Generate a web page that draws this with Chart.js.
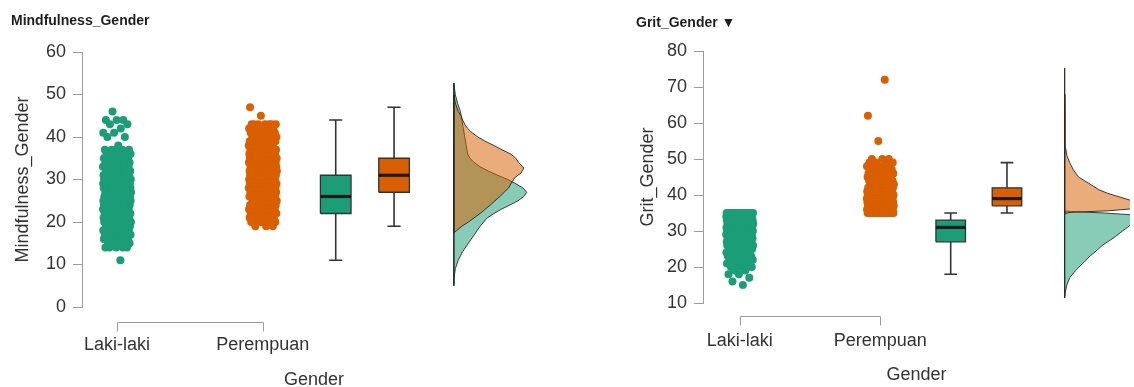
<!DOCTYPE html>
<html>
<head>
<meta charset="utf-8">
<script src="https://cdn.jsdelivr.net/npm/chart.js@4.4.1/dist/chart.umd.min.js"></script>
<style>
html,body{margin:0;padding:0;background:#ffffff;}
body{width:1134px;height:387px;position:relative;overflow:hidden;}
#w1{position:absolute;left:0;top:0;width:560px;height:387px;}
#w2{position:absolute;left:620px;top:0;width:514px;height:387px;}
</style>
</head>
<body>
<div id="w1"><canvas id="c1" width="560" height="387"></canvas></div>
<div id="w2"><canvas id="c2" width="514" height="387"></canvas></div>
<script>
// ---------- data ----------
const categories = ['Laki-laki', 'Perempuan'];

// Mindfulness_Gender: observed scores and how many cases sit at each score
const mindLakiScores = [11,14,15,16,17,18,19,20,21,22,23,24,25,26,27,28,29,30,31,32,33,34,35,36,37,38,40,41,42,43,44,46];
const mindLakiCounts = [1,5,6,7,8,9,10,11,12,13,13,14,15,16,16,15,15,14,12,11,10,9,8,7,5,1,2,2,1,2,3,1];
const mindPerScores = [19,20,21,22,23,24,25,26,27,28,29,30,31,32,33,34,35,36,37,38,39,40,41,42,43,45,47];
const mindPerCounts = [3,9,8,8,9,10,11,12,13,14,15,15,15,16,16,15,14,13,12,10,9,8,8,8,7,1,1];

// Mindfulness boxplot statistics [Laki-laki, Perempuan]
const mindWhiskerLow  = [11, 19];
const mindQ1          = [22, 27];
const mindMedian      = [26, 31];
const mindQ3          = [31, 35];
const mindWhiskerHigh = [44, 47];

// Mindfulness densities (relative height)
const mindDensLakiY = [5,7,9,11,13,15,17,19,21,22,23,24,25,26,27,28,29,30,31,32,33,34,35,36,38,40,42,44,46,48,50,52.7];
const mindDensLakiV = [0,0.005,0.02,0.06,0.12,0.2,0.28,0.36,0.46,0.55,0.65,0.77,0.88,0.96,1.0,0.95,0.85,0.74,0.6,0.47,0.36,0.28,0.22,0.19,0.17,0.15,0.13,0.11,0.09,0.05,0.02,0];
const mindDensPerY  = [17.5,18,19,20,22,24,26,28,29.5,30.5,31.5,32.7,34,35,36,37,38,39,40,41,42,43,44,45,46,47,48,50];
const mindDensPerV  = [0,0.04,0.11,0.2,0.36,0.5,0.63,0.75,0.8,0.84,0.92,0.96,0.89,0.85,0.78,0.66,0.55,0.43,0.33,0.25,0.19,0.15,0.12,0.1,0.06,0.04,0.02,0];

// Grit_Gender
const gritLakiScores = [15,16,17,18,19,20,21,22,23,24,25,26,27,28,29,30,31,32,33,34,35];
const gritLakiCounts = [1,1,1,2,2,4,5,6,7,8,9,11,12,14,15,16,18,19,20,22,22];
const gritPerScores  = [35,36,37,38,39,40,41,42,43,44,45,46,47,48,49,50,55,62,72];
const gritPerCounts  = [22,21,20,18,16,15,13,12,10,9,8,7,6,5,4,3,1,1,1];

const gritWhiskerLow  = [18, 35];
const gritQ1          = [27, 37];
const gritMedian      = [31, 39];
const gritQ3          = [33, 42];
const gritWhiskerHigh = [35, 49];

const gritDensLakiY = [11.4,13,15,17,19,21,23,24.7,26,28.4,30,31,32,33,33.8,34.5,35,35.4,35.6];
const gritDensLakiV = [0,0.01,0.03,0.07,0.15,0.25,0.35,0.45,0.52,0.7,0.8,0.87,0.93,0.98,1.0,0.92,0.55,0.1,0];
const gritDensPerY  = [34.9,35.2,35.6,36.2,37,38,38.6,39.5,40.5,41.5,43.3,45,47,49,51,53,56,60,63,68,72,75.3];
const gritDensPerV  = [0,0.1,0.6,0.95,1.0,0.95,0.9,0.75,0.59,0.47,0.33,0.19,0.12,0.07,0.03,0.015,0.01,0.006,0.005,0.003,0.002,0];

const yTicksMind = [0, 60, 10];   // min, max, step
const yTicksGrit = [10, 80, 10];

// ---------- styling / layout ----------
const GREEN = '#1b9e77', ORANGE = '#d95f02';
const TXT = '#333333';
const AX = '#9c9c9c';
const FONT = "'Liberation Sans', Arial, Helvetica, sans-serif";
const FS = 18;

function expand(scores, counts) {
  const out = [];
  scores.forEach((s, k) => { for (let c = 0; c < counts[k]; c++) out.push(s); });
  return out;
}
function strip(values, xc, half) {
  return values.map((v, i) => ({ x: xc + ((((i + 1) * 0.6180339887) % 1) - 0.5) * 2 * half, y: v }));
}
function densityPolygon(ys, vs, base, width) {
  const pts = ys.map((y, i) => ({ x: base + vs[i] * width, y: y }));
  pts.push({ x: base, y: ys[0] });
  return pts;
}
function boxPolygon(c, h, q1, q3) {
  return [{x:c-h,y:q1},{x:c+h,y:q1},{x:c+h,y:q3},{x:c-h,y:q3},{x:c-h,y:q1}];
}
function whiskers(c, cap, lo, q1, q3, hi) {
  return [
    {x:c,y:lo},{x:c,y:q1},{x:c,y:null},
    {x:c,y:q3},{x:c,y:hi},{x:c,y:null},
    {x:c-cap,y:lo},{x:c+cap,y:lo},{x:c,y:null},
    {x:c-cap,y:hi},{x:c+cap,y:hi}
  ];
}

const bracketPlugin = {
  id: 'bracket',
  afterDraw(chart, args, opts) {
    const xs = chart.scales.x, ctx = chart.ctx;
    const y = Math.round(chart.chartArea.bottom + opts.offset) + 0.5;
    const x1 = Math.round(xs.getPixelForValue(1)) + 0.5;
    const x2 = Math.round(xs.getPixelForValue(2)) + 0.5;
    ctx.save();
    ctx.strokeStyle = opts.color; ctx.lineWidth = 1;
    ctx.beginPath();
    ctx.moveTo(x1, y + opts.tick); ctx.lineTo(x1, y); ctx.lineTo(x2, y); ctx.lineTo(x2, y + opts.tick);
    ctx.stroke();
    ctx.restore();
  }
};

function makePanel(id, p) {
  const posStrip = [1, 2], posBox = [2.5, 2.9], posDens = 3.31;
  const boxHalf = 0.105, capHalf = 0.045, jitter = 0.097;
  const lineDs = (data, extra) => Object.assign({
    type: 'line', data, showLine: true, pointRadius: 0, pointHoverRadius: 0,
    tension: 0, spanGaps: false, fill: false
  }, extra);

  const datasets = [
    { type: 'scatter', data: strip(expand(p.sc[0], p.cn[0]), posStrip[0], jitter), backgroundColor: GREEN, borderWidth: 0, pointRadius: 4, pointHoverRadius: 4, order: 2 },
    { type: 'scatter', data: strip(expand(p.sc[1], p.cn[1]), posStrip[1], jitter), backgroundColor: ORANGE, borderWidth: 0, pointRadius: 4, pointHoverRadius: 4, order: 2 },
    lineDs(densityPolygon(p.dy[0], p.dv[0], posDens, p.dw), { fill: 'shape', backgroundColor: 'rgba(27,158,119,0.52)', borderColor: 'rgba(35,45,40,0.9)', borderWidth: 1, order: 8 }),
    lineDs(densityPolygon(p.dy[1], p.dv[1], posDens, p.dw), { fill: 'shape', backgroundColor: 'rgba(217,95,2,0.52)', borderColor: 'rgba(45,35,30,0.9)', borderWidth: 1, order: 7 }),
    lineDs(whiskers(posBox[0], capHalf, p.lo[0], p.q1[0], p.q3[0], p.hi[0]), { borderColor: '#333333', borderWidth: 1.6, order: 6 }),
    lineDs(whiskers(posBox[1], capHalf, p.lo[1], p.q1[1], p.q3[1], p.hi[1]), { borderColor: '#333333', borderWidth: 1.6, order: 6 }),
    lineDs(boxPolygon(posBox[0], boxHalf, p.q1[0], p.q3[0]), { fill: 'shape', backgroundColor: GREEN, borderColor: '#333333', borderWidth: 1.3, order: 4 }),
    lineDs(boxPolygon(posBox[1], boxHalf, p.q1[1], p.q3[1]), { fill: 'shape', backgroundColor: ORANGE, borderColor: '#333333', borderWidth: 1.3, order: 4 }),
    lineDs([{x:posBox[0]-boxHalf,y:p.md[0]},{x:posBox[0]+boxHalf,y:p.md[0]}], { borderColor: '#1a1a1a', borderWidth: 3.2, borderCapStyle: 'butt', order: 1 }),
    lineDs([{x:posBox[1]-boxHalf,y:p.md[1]},{x:posBox[1]+boxHalf,y:p.md[1]}], { borderColor: '#1a1a1a', borderWidth: 3.2, borderCapStyle: 'butt', order: 1 })
  ];

  return new Chart(document.getElementById(id), {
    type: 'scatter',
    data: { datasets },
    plugins: [bracketPlugin],
    options: {
      responsive: false, animation: false, events: [],
      layout: { padding: { left: p.padL, right: p.padR, top: 0, bottom: 0 } },
      plugins: {
        legend: { display: false },
        tooltip: { enabled: false },
        title: { display: true, text: p.title, align: 'start', color: '#1e1e1e',
                 font: { family: FONT, size: 14, weight: 'bold' }, padding: { top: p.tPt, bottom: p.tPb } },
        bracket: { offset: p.brk, tick: 9, color: AX }
      },
      scales: {
        x: {
          type: 'linear', min: p.xMin, max: p.xMax, offset: false,
          afterBuildTicks: s => { s.ticks = categories.map((c, i) => ({ value: posStrip[i] })); },
          afterFit: s => { s.height = p.xH; },
          ticks: { autoSkip: false, maxRotation: 0, padding: 27.2, color: TXT, font: { family: FONT, size: FS },
                   callback: v => categories[Math.round(v) - 1] || '' },
          grid: { display: false, drawTicks: false },
          border: { display: false },
          title: { display: true, text: 'Gender', color: TXT, font: { family: FONT, size: FS }, padding: { top: 0, bottom: p.xTpb } }
        },
        y: {
          type: 'linear', min: p.yt[0], max: p.yt[1],
          afterFit: s => { s.width = p.yW; },
          ticks: { stepSize: p.yt[2], padding: 7, color: TXT, font: { family: FONT, size: FS } },
          grid: { display: true, drawOnChartArea: false, drawTicks: true, tickLength: 9, color: AX, lineWidth: 1 },
          border: { display: true, color: AX, width: 1 },
          title: { display: true, text: p.yTitle, color: TXT, font: { family: FONT, size: FS }, padding: { top: 1.2, bottom: 0 } }
        }
      }
    }
  });
}

makePanel('c1', {
  title: 'Mindfulness_Gender', yTitle: 'Mindfulness_Gender',
  sc: [mindLakiScores, mindPerScores], cn: [mindLakiCounts, mindPerCounts],
  lo: mindWhiskerLow, q1: mindQ1, md: mindMedian, q3: mindQ3, hi: mindWhiskerHigh,
  dy: [mindDensLakiY, mindDensPerY], dv: [mindDensLakiV, mindDensPerV], dw: 0.5,
  yt: yTicksMind, xMin: 0.76, xMax: 3.942,
  padL: 11, padR: 14, yW: 71, xH: 80, tPt: 12.6, tPb: 22.6, xTpb: -3.8, brk: 14.5
});

makePanel('c2', {
  title: 'Grit_Gender \u25BC', yTitle: 'Grit_Gender',
  sc: [gritLakiScores, gritPerScores], cn: [gritLakiCounts, gritPerCounts],
  lo: gritWhiskerLow, q1: gritQ1, md: gritMedian, q3: gritQ3, hi: gritWhiskerHigh,
  dy: [gritDensLakiY, gritDensPerY], dv: [gritDensLakiV, gritDensPerV], dw: 0.514,
  yt: yTicksGrit, xMin: 0.7394, xMax: 3.7746,
  padL: 16, padR: 0, yW: 67, xH: 84, tPt: 14.6, tPb: 19.6, xTpb: 1.2, brk: 13
});
</script>
</body>
</html>
